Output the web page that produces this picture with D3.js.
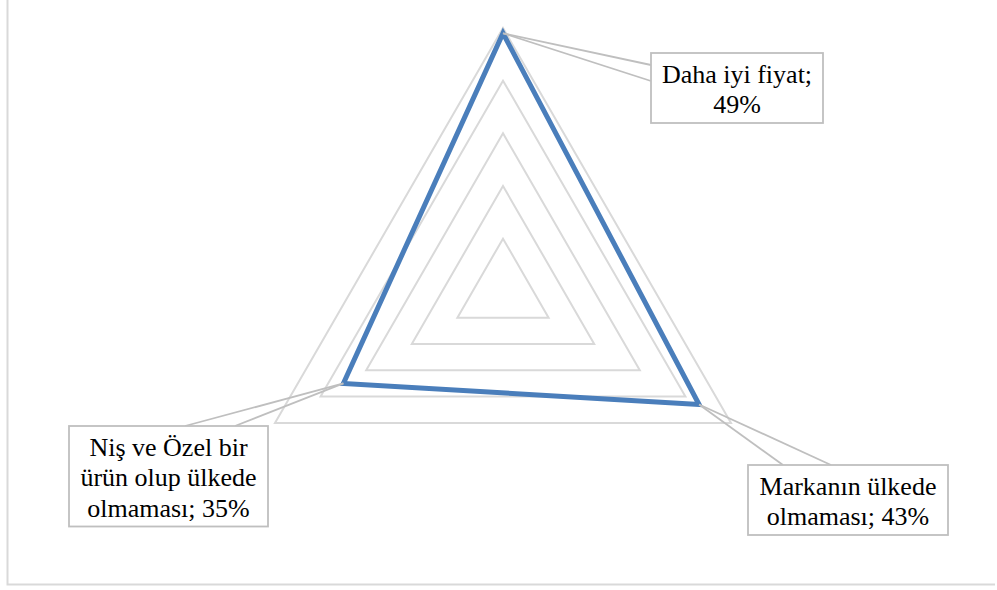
<!DOCTYPE html>
<html>
<head>
<meta charset="utf-8">
<script src="https://cdn.jsdelivr.net/npm/d3@7"></script>
<style>
  html, body { margin: 0; padding: 0; background: #ffffff; }
  svg { display: block; }
</style>
</head>
<body>
<svg id="chart" width="997" height="590"></svg>
<script>
// Survey reasons (share of respondents)
const categories = ["Daha iyi fiyat", "Markanın ülkede olmaması", "Niş ve Özel bir ürün olup ülkede olmaması"];
const values = [0.49, 0.43, 0.35];
const gridTicks = [0.1, 0.2, 0.3, 0.4, 0.5];

// Label callout boxes: left/top corner, wrap width, and where the wedge meets the box
const labelLayout = [
  { x: 651, y: 53, w: 172, wrap: 165, anchors: [[651, 65], [651, 81]] },
  { x: 748, y: 465, w: 200, wrap: 195, anchors: [[783, 465], [831, 465]] },
  { x: 69, y: 426, w: 199, wrap: 190, anchors: [[185, 426], [235, 426]] }
];

const svg = d3.select("#chart");
const cx = 503, cy = 291.3, R = 263.3;
const labelFont = '"Liberation Serif"';

const r = d3.scaleLinear().domain([0, d3.max(gridTicks)]).range([0, R]);
const angle = d3.scaleOrdinal()
  .domain(categories)
  .range(categories.map((_, i) => -Math.PI / 2 + i * 2 * Math.PI / categories.length));

const pt = (cat, v) => [cx + r(v) * Math.cos(angle(cat)), cy + r(v) * Math.sin(angle(cat))];

// Chart frame (left and bottom edges)
svg.append("path")
  .attr("d", "M7.5,0 L7.5,584.5 L995,584.5")
  .attr("fill", "none")
  .attr("stroke", "#d9d9d9")
  .attr("stroke-width", 2);

// Grid rings
const ringLine = d3.line().curve(d3.curveLinearClosed);
svg.append("g").selectAll("path")
  .data(gridTicks)
  .join("path")
  .attr("d", t => ringLine(categories.map(c => pt(c, t))))
  .attr("fill", "none")
  .attr("stroke", "#d9d9d9")
  .attr("stroke-width", 2);

// Series
svg.append("path")
  .datum(categories.map((c, i) => pt(c, values[i])))
  .attr("d", ringLine)
  .attr("fill", "none")
  .attr("stroke", "#4a7ebb")
  .attr("stroke-width", 5)
  .attr("stroke-linejoin", "miter");

// Data labels with callout wedges
const fontSize = 26, lineH = 30.5;
const measure = svg.append("text")
  .style("font-family", labelFont)
  .style("font-size", fontSize + "px")
  .attr("visibility", "hidden");

function wrap(text, width) {
  const words = text.split(" ");
  const lines = [];
  let cur = "";
  words.forEach(w => {
    const test = cur ? cur + " " + w : w;
    measure.text(test);
    if (cur && measure.node().getComputedTextLength() > width) {
      lines.push(cur);
      cur = w;
    } else {
      cur = test;
    }
  });
  if (cur) lines.push(cur);
  return lines;
}

const labels = svg.append("g");
categories.forEach((c, i) => {
  const L = labelLayout[i];
  const label = c + "; " + d3.format(".0%")(values[i]);
  const lines = wrap(label, L.wrap);
  const h = 29.5 + (lines.length - 1) * lineH + 10;
  const p = pt(c, values[i]);

  labels.append("g").selectAll("line")
    .data(L.anchors)
    .join("line")
    .attr("x1", p[0]).attr("y1", p[1])
    .attr("x2", d => d[0]).attr("y2", d => d[1])
    .attr("stroke", "#bfbfbf")
    .attr("stroke-width", 1.8);

  labels.append("rect")
    .attr("x", L.x).attr("y", L.y)
    .attr("width", L.w).attr("height", h)
    .attr("fill", "#ffffff")
    .attr("stroke", "#bfbfbf")
    .attr("stroke-width", 1.8);

  labels.append("text")
    .style("font-family", labelFont)
    .style("font-size", fontSize + "px")
    .attr("fill", "#000000")
    .attr("text-anchor", "middle")
    .selectAll("tspan")
    .data(lines)
    .join("tspan")
    .attr("x", L.x + L.w / 2)
    .attr("y", (d, j) => L.y + 29.5 + j * lineH)
    .text(d => d);
});
measure.remove();
</script>
</body>
</html>
